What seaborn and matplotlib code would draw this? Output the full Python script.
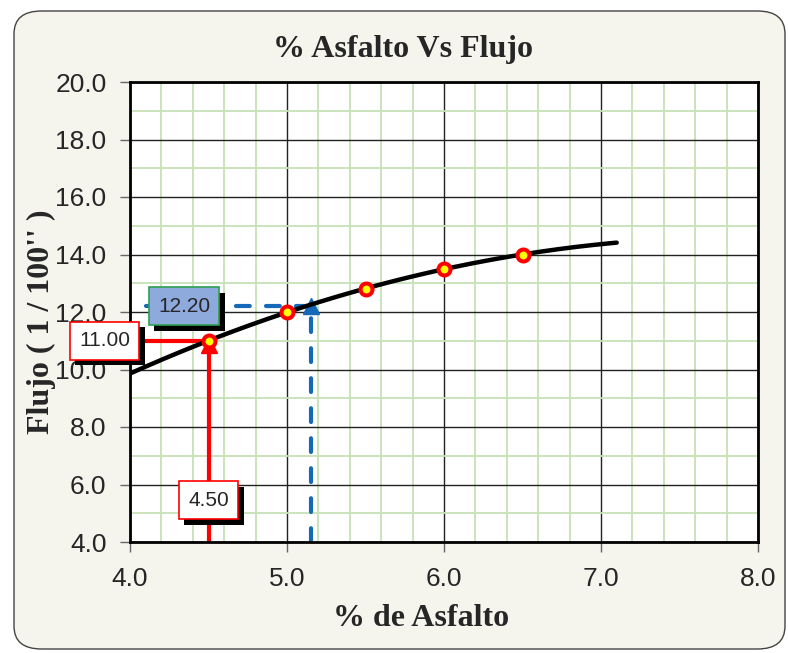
import numpy as np
import pandas as pd
import seaborn as sns
import matplotlib
matplotlib.use("Agg")
import matplotlib.pyplot as plt
from matplotlib.patches import FancyBboxPatch
from matplotlib.ticker import MultipleLocator, FormatStrFormatter
import matplotlib.patheffects as pe

# Ensayo Marshall: contenido de asfalto vs flujo
asfalto = [4.5, 5.0, 5.5, 6.0, 6.5]
flujo = [11.0, 12.0, 12.8, 13.5, 14.0]

# Lecturas marcadas sobre la curva
asfalto_optimo = 4.50
flujo_optimo = 11.00
asfalto_lectura = 5.15
flujo_lectura = 12.20

titulo = "% Asfalto Vs Flujo"
etiqueta_x = "% de Asfalto"
etiqueta_y = "Flujo ( 1 / 100'' )"

sns.set_style("white")
plt.rcParams["font.family"] = ["Liberation Sans", "DejaVu Sans"]

fig = plt.figure(figsize=(7.88, 6.53), dpi=100)
fig.patch.set_facecolor("white")
fig.patches.append(FancyBboxPatch((14 / 788, 4 / 653), 771 / 788, 638 / 653,
                                  boxstyle="round,pad=0,rounding_size=0.035",
                                  transform=fig.transFigure, facecolor="#F5F5EE",
                                  edgecolor="#444444", linewidth=1.0, zorder=-10))

ax = fig.add_axes([130 / 788, 1 - 542 / 653, 628 / 788, 460 / 653])
ax.set_facecolor("white")

# Curva de tendencia (polinomio de 2do grado)
coef = np.polyfit(asfalto, flujo, 2)
xs = np.linspace(4.0, 7.1, 200)
curva = pd.DataFrame({"x": xs, "y": np.polyval(coef, xs)})
puntos = pd.DataFrame({"x": asfalto, "y": flujo})

# Lineas guia
ax.plot([4.0, asfalto_optimo], [flujo_optimo, flujo_optimo], color="#FF0000", lw=3, zorder=3,
        solid_capstyle="butt")
ax.plot([asfalto_optimo, asfalto_optimo], [4.0, flujo_optimo - 0.2], color="#FF0000", lw=3,
        zorder=3, solid_capstyle="butt", clip_on=False)
ax.plot([asfalto_optimo], [flujo_optimo - 0.15], marker="^", markersize=12, color="#FF0000",
        zorder=3)

azul = "#1569B8"
ax.plot([4.1, asfalto_lectura], [flujo_lectura, flujo_lectura], color=azul, lw=3,
        linestyle=(0, (3.3, 3.9)), dash_capstyle="round", zorder=3)
ax.plot([asfalto_lectura, asfalto_lectura], [4.0, flujo_lectura], color=azul, lw=3,
        linestyle=(0, (3.3, 3.9)), dash_capstyle="round", zorder=3)
ax.plot([asfalto_lectura], [flujo_lectura], marker="^", markersize=12, color=azul, zorder=3)

sns.lineplot(data=curva, x="x", y="y", ax=ax, color="black", lw=3.2, zorder=4,
             solid_capstyle="round")
sns.scatterplot(data=puntos, x="x", y="y", ax=ax, s=74, color="#FFFF00", edgecolor="#FF0000",
                linewidth=2.9, zorder=5)

ax.set_xlim(4.0, 8.0)
ax.set_ylim(4.0, 20.0)
ax.xaxis.set_major_locator(MultipleLocator(1.0))
ax.xaxis.set_minor_locator(MultipleLocator(0.2))
ax.yaxis.set_major_locator(MultipleLocator(2.0))
ax.yaxis.set_minor_locator(MultipleLocator(1.0))
ax.xaxis.set_major_formatter(FormatStrFormatter("%.1f"))
ax.yaxis.set_major_formatter(FormatStrFormatter("%.1f"))
ax.grid(which="minor", color="#C6E2B6", lw=1.3, zorder=0)
ax.grid(which="major", color="#222222", lw=1.0, zorder=1)
ax.set_axisbelow(True)
ax.tick_params(which="major", direction="out", length=7, width=1, color="#666666",
               labelsize=19, bottom=True, left=True)
ax.tick_params(axis="y", which="major", pad=10)
ax.tick_params(axis="x", which="major", pad=11)
ax.tick_params(which="minor", length=0)
for s in ax.spines.values():
    s.set_visible(True)
    s.set_color("black")
    s.set_linewidth(2)
    s.set_zorder(6)

ax.set_xlabel(etiqueta_x, family="Liberation Serif", fontweight="bold", fontsize=23)
ax.set_ylabel(etiqueta_y, family="Liberation Serif", fontweight="bold", fontsize=23)
ax.xaxis.set_label_coords(0.463, -0.135)
ax.yaxis.set_label_coords(-0.118, 0.478)
fig.text(403 / 788, 1 - 49 / 653, titulo, family="Liberation Serif", fontweight="bold",
         fontsize=23, ha="center", va="center")

# Cuadros de valores
sombra = [pe.withSimplePatchShadow(offset=(4, -4), shadow_rgbFace="black", alpha=1.0)]


def cuadro(x, y, texto, cara, borde):
    t = ax.text(x, y, texto, fontsize=15, ha="center", va="center", zorder=8, clip_on=False,
                bbox=dict(boxstyle="square,pad=0.45", facecolor=cara, edgecolor=borde, lw=1.2))
    t.get_bbox_patch().set_path_effects(sombra)
    return t


cuadro(3.838, flujo_optimo, f"{flujo_optimo:.2f}", "white", "#FF0000")
cuadro(asfalto_optimo, 5.45, f"{asfalto_optimo:.2f}", "white", "#FF0000")
cuadro(4.344, flujo_lectura, f"{flujo_lectura:.2f}", "#8EA9DB", "#2EA052")

fig.savefig("out.png", dpi=100, facecolor=fig.get_facecolor())
